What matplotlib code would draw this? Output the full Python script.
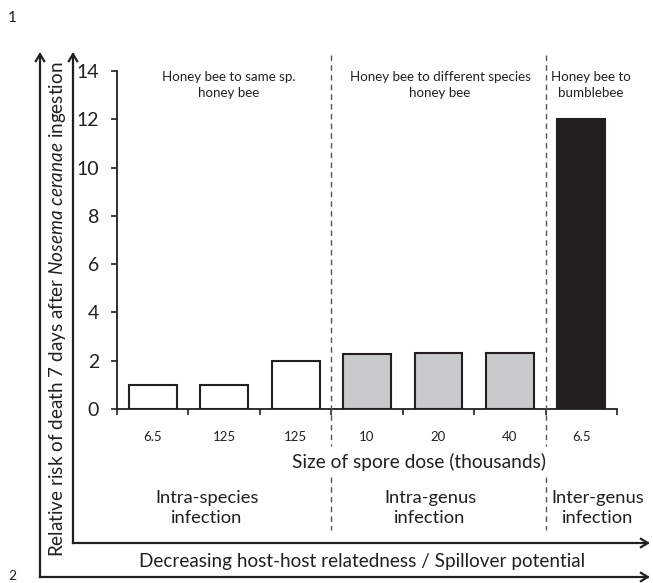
import matplotlib
matplotlib.use("Agg")
import matplotlib.pyplot as plt
from matplotlib.patches import FancyArrowPatch
from matplotlib.transforms import blended_transform_factory

plt.rcParams['font.family'] = ['Lato', 'DejaVu Sans']
plt.rcParams['mathtext.fontset'] = 'custom'
plt.rcParams['mathtext.rm'] = 'Lato'
plt.rcParams['mathtext.it'] = 'Lato:italic'

# ---- data ----
dose_labels = ["6.5", "125", "125", "10", "20", "40", "6.5"]
risk_values = [1.0, 1.0, 2.0, 2.27, 2.33, 2.33, 12.0]
groups = ["intra", "intra", "intra", "genus", "genus", "genus", "inter"]
group_colors = {"intra": "#ffffff", "genus": "#c8c9cb", "inter": "#231f20"}
yticks = [0, 2, 4, 6, 8, 10, 12, 14]
top_labels = ["Honey bee to same sp.\nhoney bee",
              "Honey bee to different species\nhoney bee",
              "Honey bee to\nbumblebee"]
bottom_labels = ["Intra-species\ninfection", "Intra-genus\ninfection", "Inter-genus\ninfection"]
divider_positions = [2.5, 5.5]

W, H = 653, 583
fig = plt.figure(figsize=(W / 100, H / 100), dpi=100)

def fx(x):
    return x / W

def fy(y):
    return 1 - y / H

ax = fig.add_axes([fx(117), fy(409), fx(617) - fx(117), fy(71) - fy(409)])
xs = list(range(len(risk_values)))
ax.bar(xs, risk_values, width=0.67,
       color=[group_colors[g] for g in groups],
       edgecolor="#231f20", linewidth=1.5, zorder=3)
ax.set_xlim(-0.5, len(xs) - 0.5)
ax.set_ylim(0, 14)
ax.set_yticks(yticks)
ax.set_yticklabels([str(t) for t in yticks], fontsize=14, color="#231f20")
ax.set_xticks(xs)
ax.set_xticklabels(dose_labels, fontsize=9.5, color="#231f20")
ax.set_xticks([x - 0.5 for x in xs] + [len(xs) - 0.5], minor=True)
ax.tick_params(axis='x', which='major', length=0, pad=16)
ax.tick_params(axis='x', which='minor', length=4, width=1.2, direction='out', color="#231f20")
ax.tick_params(axis='y', length=4, width=1.2, direction='out', pad=9, color="#231f20")
for s in ["top", "right"]:
    ax.spines[s].set_visible(False)
for s in ["left", "bottom"]:
    ax.spines[s].set_linewidth(1.3)
    ax.spines[s].set_color("#231f20")

# dashed dividers (interrupted around the dose title)
tr = blended_transform_factory(ax.transData, fig.transFigure)
for d in divider_positions:
    for y0, y1 in [(55, 446), (477, 530)]:
        ax.plot([d, d], [fy(y0), fy(y1)], transform=tr, clip_on=False,
                color="#555555", lw=1.0, ls=(0, (4, 3)), zorder=5)

# top labels
top_x = [229, 440, 591]
for x, t in zip(top_x, top_labels):
    fig.text(fx(x), fy(85), t, ha='center', va='center', fontsize=9.6,
             color="#231f20", linespacing=1.4)

# x axis title
fig.text(fx(419), fy(462), "Size of spore dose (thousands)", ha='center', va='center',
         fontsize=13.8, color="#231f20")

# bottom group labels
bot_x = [207, 430, 598]
for x, t in zip(bot_x, bottom_labels):
    fig.text(fx(x), fy(508), t, ha='center', va='center', fontsize=13.2,
             color="#231f20", linespacing=1.35)

# bottom relatedness label
fig.text(fx(362), fy(561), "Decreasing host-host relatedness / Spillover potential",
         ha='center', va='center', fontsize=13.6, color="#231f20")

# y label
fig.text(fx(57), fy(309),
         r"Relative risk of death 7 days after $\mathit{Nosema\ ceranae}$ ingestion",
         ha='center', va='center', rotation=90, fontsize=13.6, color="#231f20")

# arrows
def arrow(p0, p1):
    a = FancyArrowPatch((fx(p0[0]), fy(p0[1])), (fx(p1[0]), fy(p1[1])),
                        transform=fig.transFigure,
                        arrowstyle='->,head_length=5,head_width=3',
                        lw=1.6, color="#231f20", shrinkA=0, shrinkB=0,
                        capstyle='projecting')
    fig.add_artist(a)

arrow((40, 577), (40, 52))
arrow((73, 543), (73, 52))
arrow((73, 543), (650, 543))
arrow((40, 577), (650, 577))

# page markers
fig.text(fx(8), fy(18), "1", ha='left', va='center', fontsize=11, color="#231f20")
fig.text(fx(8), fy(582), "2", ha='left', va='bottom', fontsize=10, color="#231f20")

fig.savefig("out.png", dpi=100, facecolor="white")
